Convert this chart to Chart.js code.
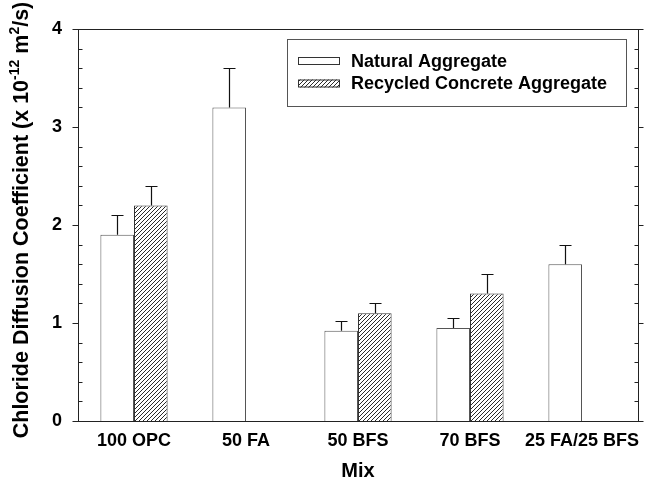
<!DOCTYPE html>
<html>
<head>
<meta charset="utf-8">
<script src="https://cdn.jsdelivr.net/npm/chart.js@4.4.1/dist/chart.umd.min.js"></script>
<style>
  html, body { margin: 0; padding: 0; background: #fff; }
  #wrap { width: 664px; height: 483px; }
</style>
</head>
<body>
<div id="wrap"><canvas id="chlorideChart" width="664" height="483"></canvas></div>
<script>
// mixes and measured diffusion coefficients (x 10^-12 m2/s)
const mixes = ['100 OPC', '50 FA', '50 BFS', '70 BFS', '25 FA/25 BFS'];
const naturalMean = [1.9, 3.2, 0.92, 0.95, 1.6];
const naturalErr = [0.2, 0.4, 0.1, 0.1, 0.2];
const recycledMean = [2.2, null, 1.1, 1.3, null];
const recycledErr = [0.2, null, 0.1, 0.2, null];
const yTicks = [0, 1, 2, 3, 4];

const FONT = '"Liberation Sans", Arial, sans-serif';
const canvas = document.getElementById('chlorideChart');
const ctx = canvas.getContext('2d');

// diagonal hatching for the recycled aggregate bars
function makeHatch(size) {
    const c = document.createElement('canvas');
    c.width = size; c.height = size;
    const g = c.getContext('2d');
    g.fillStyle = '#fff';
    g.fillRect(0, 0, size, size);
    g.strokeStyle = '#2a2a2a';
    g.lineWidth = 1;
    g.beginPath();
    g.moveTo(-1, size + 1); g.lineTo(size + 1, -1);
    g.moveTo(-1, 1); g.lineTo(1, -1);
    g.moveTo(size - 1, size + 1); g.lineTo(size + 1, size - 1);
    g.stroke();
    return ctx.createPattern(c, 'repeat');
}
const hatch = makeHatch(4);

// one-sided (upward) error bars
const errorBars = {
    id: 'errorBars',
    afterDatasetsDraw(chart) {
        const c = chart.ctx;
        const y = chart.scales.y;
        c.save();
        c.strokeStyle = '#111';
        c.lineWidth = 1.2;
        chart.data.datasets.forEach((ds, i) => {
            chart.getDatasetMeta(i).data.forEach((bar, j) => {
                const v = ds.data[j], e = ds.errors[j];
                if (v == null || e == null) return;
                const x = Math.round(bar.x) + 0.5;
                const y0 = y.getPixelForValue(v);
                const y1 = Math.round(y.getPixelForValue(v + e)) + 0.5;
                c.beginPath();
                c.moveTo(x, y0);
                c.lineTo(x, y1);
                c.moveTo(x - 6, y1);
                c.lineTo(x + 6, y1);
                c.stroke();
            });
        });
        c.restore();
    }
};

// box frame with major ticks outside and minor ticks inside
const frame = {
    id: 'frame',
    afterDraw(chart) {
        const c = chart.ctx;
        const a = chart.chartArea;
        const y = chart.scales.y;
        const L = Math.round(a.left) + 0.5, R = Math.round(a.right) + 0.5;
        c.save();
        c.strokeStyle = '#222';
        c.lineWidth = 1;
        c.strokeRect(L, Math.round(a.top) + 0.5, R - L, Math.round(a.bottom) - Math.round(a.top));
        c.beginPath();
        for (let k = 0; k <= 20; k++) {
            const v = k * 0.2;
            const py = Math.round(y.getPixelForValue(v)) + 0.5;
            if (k % 5 === 0) {
                c.moveTo(L - 6, py); c.lineTo(L, py);
                c.moveTo(R, py); c.lineTo(R + 5, py);
            } else {
                c.moveTo(L, py); c.lineTo(L + 4, py);
                c.moveTo(R - 4, py); c.lineTo(R, py);
            }
        }
        c.stroke();
        c.restore();
    }
};

// boxed legend in the upper right
const boxLegend = {
    id: 'boxLegend',
    afterDraw(chart) {
        const c = chart.ctx;
        c.save();
        c.strokeStyle = '#555';
        c.lineWidth = 1;
        c.strokeRect(287.5, 39.5, 339, 67);
        c.font = 'bold 18px ' + FONT;
        c.textBaseline = 'alphabetic';
        chart.data.datasets.forEach((ds, i) => {
            const sy = 57 + i * 22.5;
            c.fillStyle = ds.backgroundColor;
            c.fillRect(298, sy, 42, 8);
            c.strokeStyle = '#333';
            c.strokeRect(298.5, sy + 0.5, 41, 7);
            c.fillStyle = '#000';
            c.fillText(ds.label, 351, sy + 9.5);
        });
        c.restore();
    }
};

// rotated y-axis title with superscripts
const yTitle = {
    id: 'yTitle',
    afterDraw(chart) {
        const c = chart.ctx;
        const size = 21.5, sup = 14;
        const parts = [
            ['Chloride Diffusion Coefficient (x 10', size, 0],
            ['-12', sup, -9],
            [' m', size, 0],
            ['2', sup, -9],
            ['/s)', size, 0]
        ];
        c.save();
        c.fillStyle = '#000';
        let total = 0;
        parts.forEach(p => { c.font = 'bold ' + p[1] + 'px ' + FONT; total += c.measureText(p[0]).width; });
        c.translate(28, 220);
        c.rotate(-Math.PI / 2);
        let x = -total / 2;
        parts.forEach(p => {
            c.font = 'bold ' + p[1] + 'px ' + FONT;
            c.fillText(p[0], x, p[2]);
            x += c.measureText(p[0]).width;
        });
        c.restore();
    }
};

new Chart(ctx, {
    type: 'bar',
    data: {
        labels: mixes,
        datasets: [{
            label: 'Natural Aggregate',
            data: naturalMean,
            errors: naturalErr,
            backgroundColor: '#fff',
            borderColor: '#555',
            borderWidth: 1
        }, {
            label: 'Recycled Concrete Aggregate',
            data: recycledMean,
            errors: recycledErr,
            backgroundColor: hatch,
            borderColor: '#333',
            borderWidth: 1
        }]
    },
    options: {
        responsive: false,
        animation: false,
        devicePixelRatio: 1,
        categoryPercentage: 0.6,
        barPercentage: 1.0,
        layout: { padding: { top: 29, right: 26, left: 0, bottom: 0 } },
        plugins: {
            legend: { display: false },
            tooltip: { enabled: false }
        },
        scales: {
            x: {
                grid: { display: false, drawTicks: false },
                border: { display: false },
                ticks: {
                    color: '#000',
                    padding: 9,
                    maxRotation: 0,
                    autoSkip: false,
                    font: { family: FONT, size: 18, weight: 'bold' }
                },
                title: {
                    display: true,
                    text: 'Mix',
                    color: '#000',
                    padding: { top: 2, bottom: 0 },
                    font: { family: FONT, size: 20, weight: 'bold' }
                },
                afterFit(scale) { scale.height = 62; }
            },
            y: {
                min: 0,
                max: 4,
                grid: { display: false, drawTicks: false },
                border: { display: false },
                afterBuildTicks(scale) { scale.ticks = yTicks.map(v => ({ value: v })); },
                ticks: {
                    color: '#000',
                    padding: 16,
                    font: { family: FONT, size: 18, weight: 'bold' }
                },
                afterFit(scale) { scale.width = 78; }
            }
        }
    },
    plugins: [errorBars, frame, boxLegend, yTitle]
});
</script>
</body>
</html>
